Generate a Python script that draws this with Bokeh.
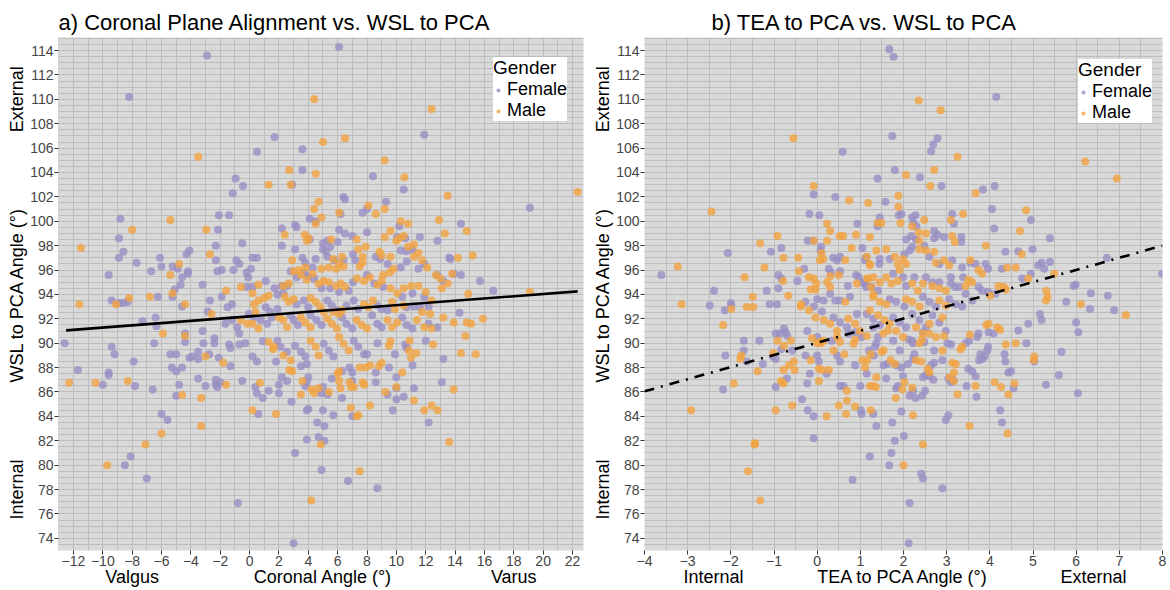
import math
from bokeh.plotting import figure
from bokeh.models import Range1d, FixedTicker, SingleIntervalTicker, LinearAxis
from bokeh.layouts import row
from bokeh.embed import file_html
from bokeh.resources import INLINE

# ---------------- data ----------------
# Panel a: Coronal angle (x) vs WSL to PCA angle (y)
a_female = [
    (-2.9,113.6),(-8.2,110.2),(0.5,105.7),(1.7,106.9),(-0.95,103.5),(-0.45,102.9),(2.9,103.0),(-1.15,102.3),
    (-2.1,100.5),(-1.4,100.5),(-8.8,100.2),(-2.15,99.3),(-8.9,98.6),(-8.6,97.5),(-8.9,97.0),(-7.7,96.6),
    (-9.6,95.6),(-2.3,98.0),(-0.5,98.2),(-4.1,97.6),(-4.3,97.3),(-6.1,97.0),(-6.0,96.3),(-6.7,95.9),
    (-5.25,96.3),(-4.9,96.1),(-4.2,95.9),(-4.2,95.7),(-4.6,95.4),(-4.7,94.8),(-3.2,94.8),(-2.3,96.8),
    (-1.9,96.0),(-2.2,95.9),(-1.1,96.0),(-0.9,96.8),(-0.7,96.5),(0.2,97.0),(0.5,97.0),(-0.2,95.8),
    (0.1,96.1),(-0.1,95.4),(1.1,95.1),(-0.2,94.6),(1.7,94.5),(2.3,94.1),(2.2,99.4),(3.1,99.7),
    (3.2,99.5),(2.2,98.0),(3.1,97.7),(2.8,95.9),(-6.25,93.8),(-9.4,93.5),(-8.9,93.3),(-8.6,93.3),
    (-8.3,93.4),(-5.25,93.8),(-5.1,94.4),(-2.7,93.5),
    (6.1,114.3),(11.9,107.1),(3.6,105.9),(19.1,101.1),(16.6,94.3),
    (-12.6,90.0),(-11.7,87.8),(-10.0,86.6),(-9.6,87.6),(-9.6,87.4),(-9.4,89.7),(-9.2,89.1),(-7.9,88.5),
    (-7.8,86.5),(-7.3,91.8),(-6.4,92.1),(-6.35,91.4),(-6.5,90.0),(-6.6,86.2),(-5.4,89.1),(-5.0,89.1),
    (-5.3,88.0),(-5.0,87.7),(-4.6,88.0),(-4.8,86.6),(-5.0,85.7),(-4.4,90.8),(-4.4,90.1),(-4.6,93.0),
    (-4.1,88.8),(-3.9,88.9),(-3.5,89.3),(-3.5,88.7),(-3.5,87.1),(-3.2,91.0),(-3.15,90.0),(-2.85,92.6),
    (-2.75,89.1),(-3.0,86.5),(-2.4,90.4),(-2.4,90.0),(-2.3,87.0),(-2.3,86.6),(-2.0,86.8),(-2.2,86.4),
    (-2.1,88.8),(-1.4,89.9),(-1.3,89.6),(-1.3,88.1),(-0.7,89.9),(-0.3,90.0),(-0.7,90.8),(-0.5,86.9),
    (0.2,88.9),(0.5,88.5),(0.4,86.4),(0.5,85.9),(0.9,85.5),(0.6,84.2),(1.3,86.1),(0.9,90.15),
    (2.0,86.6),(2.0,85.9),(1.8,88.5),(2.85,85.2),(3.1,81.0),(3.0,73.6),(-0.8,76.9),(-8.1,80.7),
    (-8.5,80.0),(-7.0,78.9),(-6.0,84.2),(-5.6,83.7),
    (3.6,104.2),(8.4,103.7),(10.5,102.6),(6.4,102.0),(6.5,101.8),(4.5,100.0),(4.1,100.2),(6.2,100.6),
    (7.7,100.7),(8.0,101.0),(9.3,101.6),(10.2,99.6),(14.4,99.8),(12.8,98.4),(4.1,98.5),(5.3,98.4),
    (5.0,98.2),(5.5,97.9),(6.0,98.3),(6.1,99.3),(6.5,99.0),(7.0,98.8),(8.0,99.1),(10.6,98.6),
    (10.05,98.7),(11.6,98.7),(3.6,97.0),(3.8,96.6),(4.3,96.2),(4.5,96.9),(5.0,97.7),(5.2,97.55),
    (5.3,97.1),(5.8,96.8),(6.4,96.8),(7.05,97.3),(7.2,96.8),(8.6,97.1),(8.9,96.9),(9.4,96.5),
    (10.3,97.6),(10.7,97.55),(11.1,97.7),(10.3,96.2),(10.7,96.7),(11.5,96.1),(11.9,96.5),(13.6,97.0),
    (13.7,96.9),(14.4,95.6),(13.9,95.7),(12.8,95.6),(13.2,95.1),(15.7,95.1),(2.2,94.7),(2.55,94.7),
    (3.2,95.4),(3.7,95.8),(4.0,95.5),(4.4,95.3),
    (0.2,94.6),(1.9,93.97),(3.2,93.2),(3.7,93.5),(4.0,92.95),(5.3,93.5),(5.6,93.1),(5.95,92.7),
    (6.6,93.1),(7.1,93.5),(7.4,92.8),(8.7,93.1),(9.0,92.8),(9.4,92.7),(10.7,92.95),(11.2,93.0),
    (11.6,92.95),(12.2,93.0),(14.3,92.5),(4.9,94.5),(5.5,94.5),(6.1,94.2),(6.75,94.3),(7.05,95.0),
    (8.0,95.6),(8.5,94.9),(9.1,94.6),(10.4,93.8),(11.1,94.1),(11.9,93.8),
    (1.2,91.6),(1.5,92.1),(1.1,92.95),(1.4,92.55),(1.9,92.8),(2.8,92.3),(3.0,91.9),(3.3,91.5),
    (4.15,92.3),(4.55,91.9),(4.9,91.5),(6.3,92.1),(6.6,91.6),(7.0,91.2),(8.35,92.3),(8.7,91.6),
    (9.0,91.3),(10.4,92.1),(10.7,91.5),(11.1,91.2),(12.2,91.6),(12.8,91.3),(-1.65,91.6),(-1.2,91.9),
    (-0.85,91.3),(-1.2,93.2),(-1.5,92.95),(-1.9,93.8),(-0.05,92.4),(0.3,92.1),(0.75,91.9),
    (1.9,90.2),(2.1,89.7),(2.55,89.3),(3.1,89.8),(3.5,89.3),(3.8,88.9),(5.05,89.95),(5.4,89.4),
    (5.7,88.9),(7.1,90.2),(7.4,89.7),(7.8,89.1),(2.2,87.2),(2.55,86.9),
    (4.9,79.6),(6.7,78.7),(8.7,78.1),(3.9,82.1),(4.7,82.3),(5.1,82.0),(4.6,83.5),(5.1,83.2),
    (3.9,84.5),(4.0,84.6),(5.0,84.5),(5.7,84.1),(7.0,84.0),(9.75,84.5),(12.2,83.5),(13.1,86.8),
    (13.2,88.7),(12.0,90.2),(10.0,85.4),(10.5,85.6),(10.0,86.3),(9.4,85.8),(11.2,86.3),(10.0,87.2),
    (11.1,88.2),(10.6,89.9),(10.7,89.6),(9.5,88.0),(9.9,89.1),(8.6,87.6),(8.6,86.8),(8.7,90.0),
    (8.0,89.1),(7.0,86.9),(7.0,87.6),(6.8,88.0),(6.3,87.7),(6.3,85.5),(5.6,87.1),(5.0,86.4),
    (4.85,85.9),(5.3,85.8),(3.8,86.5),(3.9,86.8),(4.0,87.2),(3.5,88.1),(3.9,88.3),
]
a_male = [
    (-3.5,105.3),(2.7,104.2),(1.3,103.0),(2.8,103.0),(-5.4,100.1),(-8.0,99.3),(-2.95,99.3),(-11.5,97.8),
    (-2.7,97.3),(-4.8,96.5),(-5.4,95.6),(-0.6,94.6),(-1.6,94.3),(0.2,94.1),(1.0,93.7),(1.3,93.9),
    (2.3,94.7),(2.4,98.9),(3.0,95.9),(-6.8,93.8),(-9.1,93.2),(-8.2,93.7),(-11.6,93.2),(-5.25,94.1),
    (-4.4,93.2),
    (4.4,110.0),(12.4,109.2),(6.5,106.8),(5.0,106.5),(9.2,105.0),(22.35,102.4),(19.1,94.2),
    (-12.3,86.75),(-10.5,86.75),(-8.3,86.9),(-5.9,90.8),(-4.6,85.75),(-4.4,90.6),(-3.3,85.5),(-3.0,88.9),
    (-2.6,92.4),(-1.8,88.4),(-1.6,86.6),(-0.6,91.9),(-0.15,91.6),(0.2,84.5),(0.7,86.75),(0.6,91.2),
    (0.2,91.6),(1.8,84.2),(1.6,89.5),(-7.1,81.7),(-9.7,80.0),(-6.0,82.6),(-3.3,83.2),
    (4.5,103.9),(10.55,103.6),(13.5,102.1),(4.7,101.6),(4.4,101.0),(4.9,100.3),(4.5,99.8),(6.1,100.7),
    (8.1,101.3),(8.6,100.6),(9.2,101.0),(10.3,100.0),(10.8,99.8),(12.9,100.1),(14.8,99.2),(13.3,99.0),
    (3.76,98.9),(4.03,98.6),(3.9,98.4),(5.55,98.5),(7.3,98.5),(7.4,97.7),(7.9,97.9),(9.2,98.7),
    (9.6,99.2),(10.0,98.4),(10.2,98.6),(10.5,98.8),(11.2,98.1),(2.9,96.8),(3.35,96.0),(3.8,96.2),
    (5.7,96.9),(6.3,97.1),(6.1,96.5),(6.4,96.3),(4.9,96.1),(5.4,96.2),(5.9,96.1),(7.7,97.1),
    (7.7,96.6),(7.5,96.3),(8.85,97.5),(9.0,97.2),(9.6,97.1),(9.8,96.1),(9.55,95.8),(9.1,95.6),
    (10.8,97.9),(11.2,97.1),(11.5,97.4),(11.75,96.8),(12.1,96.2),(14.2,97.0),(15.2,97.2),(13.8,95.7),
    (12.7,95.6),(13.0,95.3),(13.5,94.9),(13.1,94.5),(0.6,94.8),(2.67,94.9),(3.5,95.6),(3.9,95.2),
    (4.3,95.7),
    (2.4,93.8),(2.67,93.4),(3.0,93.6),(4.15,93.7),(4.5,93.4),(4.8,93.0),(5.05,92.55),(5.7,92.55),
    (6.1,92.4),(6.3,92.7),(7.8,93.2),(8.1,92.95),(8.4,93.5),(9.7,93.4),(9.9,92.8),(10.5,93.1),
    (11.75,92.55),(12.3,92.4),(4.7,94.9),(5.05,95.1),(5.4,95.0),(5.9,94.7),(6.2,94.9),(6.5,94.6),
    (7.3,95.3),(7.8,95.1),(8.2,95.4),(8.7,94.8),(9.0,95.1),(9.6,94.5),(10.05,94.1),(10.5,94.5),
    (11.0,94.7),(11.5,94.7),(12.0,94.2),(12.4,93.5),(14.9,94.05),
    (2.0,92.1),(2.3,91.9),(2.55,91.3),(3.5,92.1),(3.8,91.7),(4.15,91.3),(5.3,92.0),(5.6,91.6),
    (5.95,91.2),(7.3,91.9),(7.65,91.5),(8.0,91.2),(9.4,91.9),(9.7,91.3),(10.05,91.7),(11.4,91.9),
    (11.9,91.3),(13.2,92.1),(13.9,91.7),(0.4,92.55),(0.3,93.2),(0.6,93.5),
    (1.3,90.1),(1.65,89.7),(2.3,89.0),(2.8,88.6),(4.15,90.2),(4.5,89.7),(4.7,89.0),(6.1,90.5),
    (6.4,89.95),(6.75,89.4),
    (4.2,77.1),(7.5,79.5),(4.85,81.7),(6.9,84.7),(7.4,84.1),(7.3,84.0),(8.2,84.9),(11.2,85.3),
    (11.9,84.5),(12.4,84.9),(12.8,84.5),(13.6,81.9),(13.9,86.2),(14.4,89.2),(15.4,89.1),(14.7,90.6),
    (14.8,91.7),(15.1,91.6),(15.9,92.0),(12.4,91.2),(12.5,89.9),(10.0,86.4),(9.25,86.0),(10.4,87.6),
    (11.0,88.8),(11.35,89.2),(10.85,89.4),(10.9,90.2),(9.5,89.8),(9.6,90.15),(9.0,88.4),(8.8,88.1),
    (8.2,88.2),(7.9,88.0),(7.5,88.0),(7.7,86.8),(7.8,86.6),(6.9,86.4),(7.1,86.4),(6.8,86.8),
    (6.1,86.9),(6.2,86.3),(6.1,87.7),(6.0,87.5),(5.4,86.0),(4.7,86.3),(4.4,85.9),(4.2,86.2),
    (3.5,85.8),(3.6,86.9),(2.7,87.8),(2.9,87.7),
]

# Panel b: TEA to PCA angle (x) vs WSL to PCA angle (y)
b_female = [
    (0.59,105.7),(1.4,103.5),(-0.08,102.2),(0.42,102.0),(-0.18,100.6),(0.05,100.5),(0.93,99.8),(1.4,99.6),
    (-0.22,98.4),(-0.09,98.4),(-2.07,97.4),(-1.07,97.5),(-0.83,97.8),(0.09,97.9),(0.08,97.6),(1.05,97.8),
    (0.37,97.0),(0.53,97.1),(0.46,96.8),(1.13,97.05),(-3.61,95.6),(-0.3,96.1),(-0.9,95.6),(-0.83,95.3),
    (-0.46,95.1),(0.27,96.1),(0.32,95.8),(0.53,95.9),(0.71,94.7),(0.9,95.6),(0.96,95.4),(1.05,95.0),
    (1.13,94.6),(1.44,96.5),(-2.39,94.3),(-1.17,94.3),(-0.9,94.5),(0.0,93.6),(0.15,93.5),(0.3,94.05),
    (0.42,93.5),(0.53,93.5),(0.76,93.8),(-2.49,93.1),(-2.0,93.3),(-1.99,93.1),(-1.1,93.2),(-0.93,93.2),
    (-2.14,92.7),(-1.7,90.2),(-1.7,89.4),(-2.13,89.0),(-2.18,86.2),(-1.63,88.5),(-1.34,90.2),(-1.26,88.3),
    (-1.03,88.9),(-0.96,90.8),(-0.86,90.8),(-0.73,90.9),(-0.83,89.5),(-0.58,89.4),(-0.96,88.7),(-0.96,86.4),
    (-0.7,87.1),(-0.35,85.4),(-0.22,84.5),(-0.08,84.0),(-0.08,82.2),(0.0,89.0),(0.04,88.5),(-0.27,89.0),
    (-0.17,87.5),(-0.23,86.7),(0.22,87.5),(0.53,86.5),(0.61,86.5),(0.82,78.8),(1.01,84.5),(1.03,84.2),
    (1.3,84.2),(1.37,83.2),(1.22,80.7),(0.88,88.2),(1.0,86.5),(1.15,87.5),(1.2,89.4),(1.31,89.0),
    (0.73,90.8),(0.88,90.9),(0.34,90.2),(0.46,89.0),(0.53,88.5),(1.37,90.0),(1.41,90.5),
    (-0.27,93.4),(-0.08,93.0),(0.11,92.6),(0.38,92.1),(0.53,91.7),(0.69,91.3),(0.92,92.4),(1.03,90.5),
    (-0.23,91.0),(0.0,90.5),(-0.77,91.2),(-0.69,90.6),
    (1.67,114.1),(1.77,113.5),(4.15,110.2),(1.74,107.0),(2.79,106.8),(2.69,106.3),(2.64,105.75),(1.8,104.2),
    (2.38,103.6),(2.88,102.9),(4.11,102.9),(3.84,102.6),(1.58,101.6),(1.95,100.6),(1.89,100.5),(2.2,100.3),
    (2.28,100.5),(2.23,99.85),(2.3,99.6),(1.45,100.3),(3.13,100.6),(3.17,99.8),(4.05,101.0),(4.95,100.1),
    (4.1,99.4),(2.71,99.2),(2.79,98.9),(2.18,98.8),(2.06,98.5),(2.29,98.5),(2.71,98.6),(2.94,98.7),
    (3.34,98.7),(3.34,98.3),(5.39,98.6),(4.99,97.7),(4.36,97.5),(4.66,97.55),(4.28,96.1),(5.12,96.4),
    (5.2,96.6),(5.39,96.65),(5.26,96.1),(5.94,94.7),(5.99,94.8),(6.71,97.0),(6.34,94.1),(6.73,93.9),
    (7.99,95.7),(5.77,93.4),(4.95,95.7),(4.75,95.3),(3.9,96.5),(3.96,96.1),(3.55,96.6),(3.67,96.5),
    (3.38,95.4),(4.13,94.05),(3.96,94.2),(3.74,94.6),(3.82,94.3),(3.19,94.6),(3.1,95.4),
    (1.11,96.8),(1.45,96.9),(1.68,96.9),(2.02,97.3),(2.14,97.6),(2.2,97.9),(2.48,98.0),(2.6,97.1),
    (2.83,96.5),(3.13,96.8),(3.36,96.2),(1.11,94.9),(1.26,94.6),(1.41,94.3),(1.76,95.7),(1.99,95.4),
    (2.06,94.7),(2.25,95.4),(2.52,95.4),(2.67,95.0),(2.83,95.0),(3.1,94.9),(3.29,94.6),(3.44,94.05),
    (3.59,93.5),(1.68,93.6),(1.83,93.4),(2.02,93.0),(2.45,93.8),(2.6,93.4),(2.75,93.0),(3.06,93.6),
    (3.21,93.2),(3.36,93.0),
    (2.12,73.6),(2.14,76.9),(2.9,78.1),(2.41,79.3),(2.45,78.9),(1.67,80.0),(1.72,81.0),(1.8,82.0),
    (2.01,82.4),(4.28,83.5),(4.24,84.5),(2.98,83.7),(3.04,84.1),(1.95,84.4),(1.74,83.5),(6.04,85.9),
    (5.3,86.6),(5.6,87.4),(4.55,86.3),(4.43,87.6),(4.49,87.7),(3.69,85.6),(3.46,86.5),(3.04,87.1),
    (3.1,86.8),(3.15,87.0),(3.5,87.9),(3.59,87.7),(3.67,87.3),(3.78,89.1),(3.88,88.9),(3.94,89.4),
    (3.75,88.6),(3.82,88.7),(3.96,89.7),(4.34,89.1),(4.36,88.5),(4.85,90.0),(4.89,91.6),(4.66,91.05),
    (5.03,88.5),(5.16,92.4),(5.2,91.9),(5.66,89.3),(6.0,91.7),(6.05,90.9),(6.32,92.8),(6.88,92.7),
    (4.09,90.8),(3.97,90.9),(3.74,90.8),(3.71,90.5),(3.44,90.0),(3.52,90.2),(3.02,90.0),(3.1,89.9),
    (2.9,88.6),(2.64,88.2),(2.71,88.4),(2.52,87.4),(2.45,87.2),(2.25,89.1),(2.22,88.7),(2.1,88.3),
    (2.6,87.3),(2.69,87.0),(2.5,86.1),(2.43,85.7),(2.22,86.1),(2.14,85.7),(2.28,85.5),(1.87,86.5),
    (1.83,86.3),(1.99,87.3),(1.6,87.1),(1.83,88.2),(1.95,88.0),(1.54,88.2),(1.62,88.3),(1.34,89.7),
    (1.91,89.4),(2.12,90.3),(2.22,90.0),(2.45,90.9),(2.71,89.4),(1.76,90.2),(1.3,91.3),
    (1.15,92.4),(1.3,92.0),(1.45,91.5),(1.76,92.1),(1.91,91.7),(2.06,91.3),(2.2,92.4),(2.37,91.9),
    (2.52,91.3),(2.67,92.3),(2.83,91.7),(2.98,91.0),(2.2,90.2),(2.48,90.1),
]
b_male = [
    (-0.55,106.8),(-0.08,102.9),(0.74,101.7),(1.18,101.5),(-2.45,100.8),(0.23,99.8),(0.3,99.2),(1.4,99.85),
    (-0.92,98.8),(-1.32,98.2),(-0.08,98.4),(0.52,98.8),(0.6,98.8),(0.9,98.9),(1.22,98.7),(0.23,98.4),
    (-0.78,97.0),(-0.44,97.0),(0.1,97.4),(0.8,97.8),(0.06,96.8),(0.14,96.9),(0.65,96.8),(1.22,96.5),
    (-3.23,96.3),(-1.68,95.4),(-1.22,96.2),(-0.42,95.9),(-0.79,95.1),(-0.19,95.4),(-0.08,95.3),(-0.02,94.9),
    (0.3,95.5),(0.23,95.0),(0.3,94.6),(0.5,95.6),(0.92,94.9),(1.16,95.3),(1.25,94.6),(1.3,94.0),
    (-1.49,93.8),(-0.67,93.9),(-0.15,94.4),(-0.04,94.4),(0.65,93.4),(-3.14,93.2),(-1.63,92.96),(-1.48,92.96),
    (-0.37,93.2),
    (-2.18,91.5),(-1.99,92.8),(-1.76,89.0),(-1.78,88.7),(-1.93,86.7),(-2.92,84.5),(-1.38,87.7),(-1.44,81.8),
    (-1.45,81.7),(-1.6,79.5),(-1.32,77.1),(-1.02,89.2),(-0.77,89.8),(-0.61,90.2),(-0.78,87.8),(-0.65,88.2),
    (-0.52,87.8),(-0.54,88.5),(-0.84,86.9),(-0.78,86.7),(-0.96,84.5),(-0.58,84.9),(0.0,90.0),(0.09,90.0),
    (0.15,90.2),(-0.15,88.6),(0.04,87.9),(0.11,87.8),(0.04,86.9),(0.22,84.0),(0.27,87.8),(0.69,86.1),
    (0.69,85.3),(0.5,84.9),(0.67,84.2),(0.88,84.8),(1.24,84.5),(1.05,88.6),(1.11,88.0),(1.22,86.5),
    (1.36,86.4),(1.37,87.2),(1.24,89.1),(0.53,90.1),(0.84,89.95),(0.88,90.3),(0.46,90.5),(0.38,89.4),
    (0.63,89.1),(1.15,90.6),
    (-0.38,93.0),(-0.19,92.7),(-0.04,92.1),(0.15,91.9),(0.3,91.6),(0.46,91.0),(0.72,92.0),(0.88,91.6),
    (0.99,91.0),(-0.12,90.4),(0.08,90.1),(-0.92,90.2),
    (2.35,109.9),(2.86,109.1),(3.25,105.3),(6.21,104.9),(6.94,103.5),(2.06,103.8),(2.71,104.2),(2.62,102.9),
    (3.67,102.3),(1.88,102.1),(1.88,101.2),(2.48,100.1),(2.2,99.6),(1.93,99.85),(1.49,99.85),(3.1,100.1),
    (3.38,100.6),(4.84,100.9),(4.7,99.2),(2.35,99.1),(2.52,99.0),(2.37,98.4),(3.13,98.8),(3.19,98.3),
    (3.91,98.0),(4.74,97.3),(4.4,96.2),(4.6,96.2),(5.49,95.7),(5.31,94.3),(5.34,93.8),(6.11,93.2),
    (4.89,95.3),(3.74,96.0),(3.82,95.7),(3.55,96.8),(4.2,94.7),(4.32,94.6),(4.37,94.4),(4.01,93.9),
    (3.5,95.2),
    (1.15,97.1),(1.22,96.4),(1.37,97.6),(1.6,97.7),(1.8,97.1),(1.87,96.5),(1.91,96.0),(1.99,96.9),
    (2.06,96.5),(2.37,97.7),(2.52,97.6),(2.71,97.5),(2.75,96.6),(2.94,96.8),(3.06,96.4),(1.18,95.3),
    (1.3,95.4),(1.45,95.0),(1.6,95.4),(1.72,94.9),(1.87,95.1),(2.2,94.9),(2.33,94.3),(2.45,94.9),
    (2.67,94.7),(2.83,94.5),(2.98,94.3),(3.44,94.7),(3.59,95.0),(1.3,93.8),(1.45,93.4),(1.6,93.2),
    (2.06,93.6),(2.2,93.4),(2.37,93.0),(2.83,93.5),(2.98,93.1),
    (2.0,80.0),(2.45,81.7),(3.53,83.2),(4.41,82.6),(2.22,84.1),(4.43,85.8),(4.26,86.4),(4.11,86.8),
    (4.57,86.7),(3.25,85.8),(3.67,86.5),(3.07,87.2),(3.17,86.9),(3.17,87.6),(4.17,91.3),(4.24,91.1),
    (4.37,89.9),(4.6,90.0),(5.03,88.9),(5.02,88.6),(5.3,93.5),(7.15,92.3),(3.92,91.5),(3.97,91.6),
    (3.36,89.7),(3.32,89.5),(3.54,90.7),(2.9,89.4),(3.13,88.4),(3.21,88.3),(2.56,87.9),(2.6,87.6),
    (2.29,88.6),(2.41,88.5),(2.2,86.35),(1.97,86.2),(1.82,85.5),(2.02,86.8),(1.3,86.5),(1.7,88.6),
    (1.8,88.3),(1.16,88.6),(1.49,89.3),(1.54,89.4),(2.37,90.0),(2.43,90.3),(2.6,90.8),(2.94,90.6),
    (1.53,90.8),(1.64,91.05),
    (1.22,92.7),(1.41,92.3),(1.56,91.9),(1.68,91.6),(1.83,91.0),(1.99,90.5),(2.29,91.3),(2.45,90.8),
    (2.6,91.6),(2.75,90.5),(2.9,92.1),
]

# fitted lines (end points)
fit_a_x = [-12.5, 22.35]
fit_a_y = [91.05, 94.25]
fit_b_x = [-4.0, 8.0]
fit_b_y = [86.05, 98.0]

# ticks and axis texts
y_ticks = list(range(74, 115, 2))
a_x_ticks = list(range(-12, 23, 2))
b_x_ticks = list(range(-4, 9, 1))
y_side_texts = {78: "Internal", 94: "WSL to PCA Angle (°)", 110: "External"}
a_x_side_texts = {-8: "Valgus", 5: "Coronal Angle (°)", 18: "Varus"}
b_x_side_texts = {-2.4: "Internal", 2: "TEA to PCA Angle (°)", 6.4: "External"}

FONT = "Liberation Sans"
FEMALE_COLOR = "#998ec3"
MALE_COLOR = "#f1a340"
PANEL_BG = "#d9d9d9"
GRID = "#bdbdbd"


def side_axis(texts, vertical):
    ax = LinearAxis(ticker=FixedTicker(ticks=list(texts.keys())),
                    major_label_overrides=dict(texts))
    ax.axis_line_color = None
    ax.major_tick_line_color = None
    ax.minor_tick_line_color = None
    ax.major_tick_out = 0
    ax.major_tick_in = 0
    ax.major_label_standoff = 0 if vertical else -2
    ax.major_label_text_font = FONT
    ax.major_label_text_font_size = "18px"
    ax.major_label_text_color = "black"
    if vertical:
        ax.major_label_orientation = "vertical"
    return ax


def make_panel(title, x_range, x_ticks, x_side, x_grid_step, width, left, right,
               title_offset, female, male, fit_x, fit_y, fit_dash, legend_loc):
    p = figure(width=width, height=590, x_range=Range1d(*x_range), y_range=Range1d(73.0, 115.07),
               output_backend="svg", toolbar_location=None,
               min_border_left=left, min_border_right=right, min_border_top=37, min_border_bottom=40)
    p.background_fill_color = PANEL_BG
    p.border_fill_color = "white"
    p.outline_line_color = None

    p.title.text = title
    p.title.text_font = FONT
    p.title.text_font_size = "22px"
    p.title.text_font_style = "normal"
    p.title.text_color = "black"
    p.title.align = "left"
    p.title.offset = title_offset
    p.title.standoff = 6

    p.xgrid.ticker = SingleIntervalTicker(interval=x_grid_step)
    p.ygrid.ticker = SingleIntervalTicker(interval=0.5)
    for g in (p.xgrid, p.ygrid):
        g.grid_line_color = GRID
        g.grid_line_width = 1

    p.xaxis.ticker = FixedTicker(ticks=x_ticks)
    p.yaxis.ticker = FixedTicker(ticks=y_ticks)
    for ax in (p.xaxis, p.yaxis):
        ax.axis_line_color = None
        ax.major_tick_line_color = "#333333"
        ax.major_tick_out = 4
        ax.major_tick_in = 0
        ax.minor_tick_line_color = None
        ax.major_label_text_font = FONT
        ax.major_label_text_font_size = "14px"
        ax.major_label_text_color = "#444444"
        ax.major_label_standoff = 1

    p.add_layout(side_axis(y_side_texts, True), "left")
    p.add_layout(side_axis(x_side, False), "below")

    fx, fy = zip(*female)
    mx, my = zip(*male)
    p.scatter(list(fx), list(fy), size=8, fill_color=FEMALE_COLOR, fill_alpha=0.8, line_color=None,
              legend_label="Female")
    p.scatter(list(mx), list(my), size=8, fill_color=MALE_COLOR, fill_alpha=0.8, line_color=None,
              legend_label="Male")
    p.line(fit_x, fit_y, line_color="black", line_width=2.6, line_dash=fit_dash)

    leg = p.legend[0]
    leg.location = legend_loc
    leg.title = "Gender"
    leg.title_text_font = FONT
    leg.title_text_font_size = "19px"
    leg.title_text_font_style = "normal"
    leg.title_text_color = "black"
    leg.title_standoff = 0
    leg.label_text_font = FONT
    leg.label_text_font_size = "18px"
    leg.label_text_color = "black"
    leg.label_height = 14
    leg.glyph_height = 10
    leg.glyph_width = 10
    leg.label_standoff = 4
    leg.spacing = 0
    leg.padding = 2
    leg.margin = 0
    leg.border_line_color = None
    leg.background_fill_color = "white"
    leg.background_fill_alpha = 1.0
    return p


pa = make_panel("a) Coronal Plane Alignment vs. WSL to PCA", (-13.02, 22.75), a_x_ticks, a_x_side_texts,
                1, 590, 58, 7, 0, a_female, a_male, fit_a_x, fit_a_y, "solid", (435, 429))
pb = make_panel("b) TEA to PCA vs. WSL to PCA", (-4.0, 8.0), b_x_ticks, b_x_side_texts,
                0.5, 580, 49, 8, 67, b_female, b_male, fit_b_x, fit_b_y, "10 7 2 7", (434, 427))

layout = row(pa, pb)
open("out.html", "w").write(file_html(layout, INLINE))
